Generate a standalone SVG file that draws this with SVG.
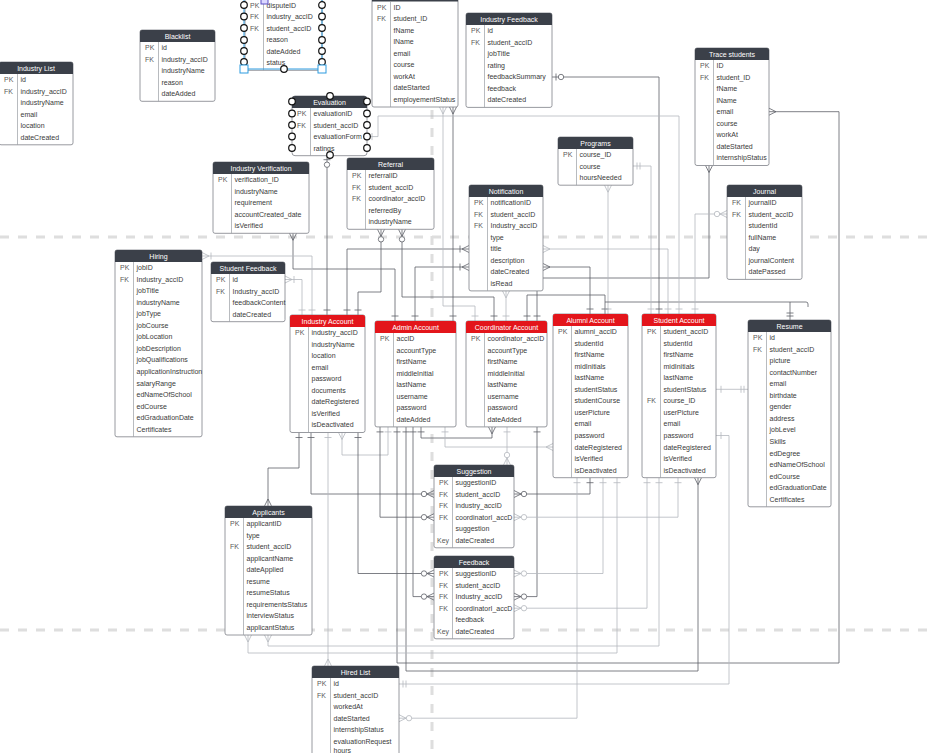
<svg xmlns="http://www.w3.org/2000/svg" width="930" height="753" viewBox="0 0 930 753">
<style>
.bx{fill:#fff;stroke:#7d8088;stroke-width:.8}
.hd{fill:#3b4049}
.hr{fill:#e3151b}
.dv{stroke:#9a9da3;stroke-width:.7}
text{font-family:"Liberation Sans",Arial,sans-serif;font-size:7px}
.ht{fill:#fff;text-anchor:middle}
.k{fill:#5a5a5a}
.f{fill:#3a3a3a}
.cd{fill:none;stroke:#5d6067;stroke-width:.8}
.cl{fill:none;stroke:#b4b8be;stroke-width:.8}
.ds{fill:none;stroke:#dedede;stroke-width:3;stroke-dasharray:9 9}
.h{fill:#fff;stroke:#111;stroke-width:1.2}
.sel{fill:none;stroke:#2d9be0;stroke-width:1}
.md{fill:none;stroke:#5d6067;stroke-width:.8}
.ml{fill:none;stroke:#b4b8be;stroke-width:.8}
</style>
<defs>
<marker id="dT" markerUnits="userSpaceOnUse" markerWidth="20" markerHeight="20" refX="0" refY="0" orient="auto-start-reverse" overflow="visible"><path class="md" d="M-5,-3.5V3.5"/></marker>
<marker id="dTT" markerUnits="userSpaceOnUse" markerWidth="20" markerHeight="20" refX="0" refY="0" orient="auto-start-reverse" overflow="visible"><path class="md" d="M-4,-3.5V3.5M-7,-3.5V3.5"/></marker>
<marker id="dC" markerUnits="userSpaceOnUse" markerWidth="20" markerHeight="20" refX="0" refY="0" orient="auto-start-reverse" overflow="visible"><path class="md" d="M0,-3.5L-7,0L0,3.5"/></marker>
<marker id="dCT" markerUnits="userSpaceOnUse" markerWidth="20" markerHeight="20" refX="0" refY="0" orient="auto-start-reverse" overflow="visible"><path class="md" d="M0,-3.5L-7,0L0,3.5M-9,-3.5V3.5"/></marker>
<marker id="dCO" markerUnits="userSpaceOnUse" markerWidth="20" markerHeight="20" refX="0" refY="0" orient="auto-start-reverse" overflow="visible"><path class="md" d="M0,-3.5L-7,0L0,3.5"/><circle cx="-10" cy="0" r="2.7" fill="#fff" stroke="#5d6067" stroke-width=".8"/></marker>
<marker id="dTO" markerUnits="userSpaceOnUse" markerWidth="20" markerHeight="20" refX="0" refY="0" orient="auto-start-reverse" overflow="visible"><path class="md" d="M-4,-3.5V3.5"/><circle cx="-9" cy="0" r="2.7" fill="#fff" stroke="#5d6067" stroke-width=".8"/></marker>
<marker id="lT" markerUnits="userSpaceOnUse" markerWidth="20" markerHeight="20" refX="0" refY="0" orient="auto-start-reverse" overflow="visible"><path class="ml" d="M-5,-3.5V3.5"/></marker>
<marker id="lTT" markerUnits="userSpaceOnUse" markerWidth="20" markerHeight="20" refX="0" refY="0" orient="auto-start-reverse" overflow="visible"><path class="ml" d="M-4,-3.5V3.5M-7,-3.5V3.5"/></marker>
<marker id="lC" markerUnits="userSpaceOnUse" markerWidth="20" markerHeight="20" refX="0" refY="0" orient="auto-start-reverse" overflow="visible"><path class="ml" d="M0,-3.5L-7,0L0,3.5"/></marker>
<marker id="lCT" markerUnits="userSpaceOnUse" markerWidth="20" markerHeight="20" refX="0" refY="0" orient="auto-start-reverse" overflow="visible"><path class="ml" d="M0,-3.5L-7,0L0,3.5M-9,-3.5V3.5"/></marker>
<marker id="lCO" markerUnits="userSpaceOnUse" markerWidth="20" markerHeight="20" refX="0" refY="0" orient="auto-start-reverse" overflow="visible"><path class="ml" d="M0,-3.5L-7,0L0,3.5"/><circle cx="-10" cy="0" r="2.7" fill="#fff" stroke="#b4b8be" stroke-width=".8"/></marker>
<marker id="lTO" markerUnits="userSpaceOnUse" markerWidth="20" markerHeight="20" refX="0" refY="0" orient="auto-start-reverse" overflow="visible"><path class="ml" d="M-4,-3.5V3.5"/><circle cx="-9" cy="0" r="2.7" fill="#fff" stroke="#b4b8be" stroke-width=".8"/></marker>
</defs>
<rect width="930" height="753" fill="#fff"/>
<g id="page-breaks">
<path class="ds" d="M0,237H930"/>
<path class="ds" d="M0,630H930"/>
<path class="ds" d="M432,110V753"/>
</g>
<g id="connectors">
<path class="cd" d="M293,233.3V269H395V321" marker-start="url(#dC)" marker-end="url(#dT)"/>
<path class="cl" d="M202,256H312V315" marker-start="url(#lCT)" marker-end="url(#lT)"/>
<path class="cl" d="M285,279.5H302V315" marker-start="url(#lCT)" marker-end="url(#lT)"/>
<path class="cd" d="M327,155.7V315" marker-start="url(#dTO)" marker-end="url(#dT)"/>
<path class="cd" d="M347,315V249H469" marker-start="url(#dT)" marker-end="url(#dCT)"/>
<path class="cd" d="M381,229.3V292H358V315" marker-start="url(#dCO)" marker-end="url(#dT)"/>
<path class="cd" d="M402,229.3V297H494V321" marker-start="url(#dCO)" marker-end="url(#dT)"/>
<path class="cd" d="M415,321V267H469" marker-start="url(#dT)" marker-end="url(#dCT)"/>
<path class="cl" d="M443,107V306H475V321" marker-start="url(#lC)" marker-end="url(#lT)"/>
<path class="cd" d="M453,107V321" marker-start="url(#dC)" marker-end="url(#dT)"/>
<path class="cl" d="M506,290.9V321" marker-start="url(#lC)" marker-end="url(#lT)"/>
<path class="cd" d="M709,165.5V278H537V321" marker-start="url(#dC)" marker-end="url(#dT)"/>
<path class="cd" d="M527,321V295H605V314" marker-start="url(#dT)" marker-end="url(#dT)"/>
<path class="cl" d="M608,185.2V314" marker-start="url(#lC)" marker-end="url(#lT)"/>
<path class="cd" d="M605,302H806Q808,302 808,304V307"/>
<path class="cd" d="M790,302V320" marker-end="url(#dTT)"/>
<path class="cd" d="M543,267H590V314" marker-start="url(#dC)" marker-end="url(#dT)"/>
<path class="cl" d="M543,249H668V314" marker-start="url(#lC)" marker-end="url(#lT)"/>
<path class="cl" d="M633,166H651V314" marker-start="url(#lTT)" marker-end="url(#lT)"/>
<path class="cd" d="M552,77H659V314" marker-start="url(#dTO)" marker-end="url(#dT)"/>
<path class="cl" d="M367,136.6H378V116H679V314" marker-start="url(#lT)" marker-end="url(#lT)"/>
<path class="cl" d="M727,214H695V314" marker-start="url(#lCO)" marker-end="url(#lT)"/>
<path class="cd" d="M769,111.7H839V663H397V426.9" marker-start="url(#dC)" marker-end="url(#dT)"/>
<path class="cl" d="M716,389.3H748" marker-start="url(#lT)" marker-end="url(#lTT)"/>
<path class="cl" d="M716,435.5H729V684H399" marker-start="url(#lT)" marker-end="url(#lTT)"/>
<path class="cd" d="M698,477.7V671H406V426.9" marker-start="url(#dC)" marker-end="url(#dT)"/>
<path class="cd" d="M299,432.5V468H268V506" marker-start="url(#dT)" marker-end="url(#dC)"/>
<path class="cd" d="M311,432.5V494H434" marker-start="url(#dT)" marker-end="url(#dCO)"/>
<path class="cl" d="M328,432.5V666" marker-start="url(#lT)" marker-end="url(#lC)"/>
<path class="cl" d="M342,432.5V455H388V426.9" marker-start="url(#lC)" marker-end="url(#lT)"/>
<path class="cd" d="M358,432.5V573.5H434" marker-start="url(#dT)" marker-end="url(#dCO)"/>
<path class="cd" d="M380,426.9V517.2H434" marker-start="url(#dT)" marker-end="url(#dCO)"/>
<path class="cd" d="M413,426.9V596.6H434" marker-start="url(#dT)" marker-end="url(#dCO)"/>
<path class="cd" d="M421,426.9V438H492V426.9" marker-start="url(#dT)" marker-end="url(#dC)"/>
<path class="cl" d="M445,426.9V447H553" marker-start="url(#lT)" marker-end="url(#lC)"/>
<path class="cl" d="M507,426.9V465" marker-start="url(#lT)" marker-end="url(#lCO)"/>
<path class="cd" d="M537,426.9V596.6H514" marker-start="url(#dT)" marker-end="url(#dCO)"/>
<path class="cd" d="M590,477.7V494H514" marker-start="url(#dT)" marker-end="url(#dCO)"/>
<path class="cl" d="M678,477.7V517.2H514" marker-start="url(#lT)" marker-end="url(#lCO)"/>
<path class="cl" d="M603,477.7V573.5H514" marker-start="url(#lT)" marker-end="url(#lCO)"/>
<path class="cl" d="M647,477.7V608.2H514" marker-start="url(#lT)" marker-end="url(#lCO)"/>
<path class="cl" d="M617,477.7V653H248V635" marker-start="url(#lT)" marker-end="url(#lC)"/>
<path class="cl" d="M659,477.7V646H268V635" marker-start="url(#lT)" marker-end="url(#lC)"/>
<path class="cl" d="M577,477.7V718.2H399" marker-start="url(#lT)" marker-end="url(#lCO)"/>
</g>

<g id="industry-list" transform="translate(-1,62)">
<rect class="bx" width="74" height="82.8" rx="2"/>
<path class="hd" d="M0,12V2Q0,0 2,0H72Q74,0 74,2V12Z"/>
<line class="dv" x1="18.5" y1="12" x2="18.5" y2="82.8"/>
<text class="ht" x="37" y="8.8">Industry List</text>
<text class="k"><tspan x="5" y="20">PK</tspan><tspan x="5" y="31.6">FK</tspan></text>
<text class="f"><tspan x="21.5" y="20">id</tspan><tspan x="21.5" y="31.6">industry_accID</tspan><tspan x="21.5" y="43.1">industryName</tspan><tspan x="21.5" y="54.7">email</tspan><tspan x="21.5" y="66.2">location</tspan><tspan x="21.5" y="77.8">dateCreated</tspan></text>
</g>

<g id="blacklist" transform="translate(140,30)">
<rect class="bx" width="75" height="71.3" rx="2"/>
<path class="hd" d="M0,12V2Q0,0 2,0H73Q75,0 75,2V12Z"/>
<line class="dv" x1="18.5" y1="12" x2="18.5" y2="71.3"/>
<text class="ht" x="37.5" y="8.8">Blacklist</text>
<text class="k"><tspan x="5" y="20">PK</tspan><tspan x="5" y="31.6">FK</tspan></text>
<text class="f"><tspan x="21.5" y="20">id</tspan><tspan x="21.5" y="31.6">industry_accID</tspan><tspan x="21.5" y="43.1">industryName</tspan><tspan x="21.5" y="54.7">reason</tspan><tspan x="21.5" y="66.2">dateAdded</tspan></text>
</g>

<g id="dispute" transform="translate(245,-12.5)">
<rect class="bx" width="77" height="82.8" rx="2"/>
<path class="hd" d="M0,12V2Q0,0 2,0H75Q77,0 77,2V12Z"/>
<line class="dv" x1="18.5" y1="12" x2="18.5" y2="82.8"/>
<text class="k"><tspan x="5" y="20">PK</tspan><tspan x="5" y="31.6">FK</tspan><tspan x="5" y="43.1">FK</tspan></text>
<text class="f"><tspan x="21.5" y="20">disputeID</tspan><tspan x="21.5" y="31.6">industry_accID</tspan><tspan x="21.5" y="43.1">student_accID</tspan><tspan x="21.5" y="54.7">reason</tspan><tspan x="21.5" y="66.2">dateAdded</tspan><tspan x="21.5" y="77.8">status</tspan></text>
</g>
<g id="dispute-selection">
<path class="sel" d="M244,0V69H322V0"/>
<circle class="h" cx="244" cy="5" r="3.3"/><circle class="h" cx="244" cy="16.5" r="3.3"/><circle class="h" cx="244" cy="28" r="3.3"/><circle class="h" cx="244" cy="40" r="3.3"/><circle class="h" cx="244" cy="51" r="3.3"/><circle class="h" cx="244" cy="62" r="3.3"/>
<circle class="h" cx="322" cy="5" r="3.3"/><circle class="h" cx="322" cy="16.5" r="3.3"/><circle class="h" cx="322" cy="28" r="3.3"/><circle class="h" cx="322" cy="40" r="3.3"/><circle class="h" cx="322" cy="51" r="3.3"/><circle class="h" cx="322" cy="62" r="3.3"/>
<rect x="240" y="65" width="8" height="8" fill="#fff" stroke="#2d9be0"/>
<rect x="318" y="65" width="8" height="8" fill="#fff" stroke="#2d9be0"/>
<circle class="h" cx="284" cy="69" r="3.3"/>
<rect x="261" y="-4" width="7" height="8" fill="#dcd8ff" stroke="#5b4fc4"/>
</g>

<g id="evaluation" transform="translate(292,96)">
<rect class="bx" width="75" height="59.7" rx="3"/>
<rect class="hd" width="75" height="12" rx="3"/>
<rect class="hd" y="6" width="75" height="6"/>
<line class="dv" x1="18.5" y1="12" x2="18.5" y2="59.7"/>
<text class="ht" x="37.5" y="8.8">Evaluation</text>
<text class="k"><tspan x="5" y="20">PK</tspan><tspan x="5" y="31.6">FK</tspan></text>
<text class="f"><tspan x="21.5" y="20">evaluationID</tspan><tspan x="21.5" y="31.6">student_accID</tspan><tspan x="21.5" y="43.1">evaluationForm</tspan><tspan x="21.5" y="54.7">ratings</tspan></text>
</g>
<g id="evaluation-selection">
<circle class="h" cx="292" cy="101.5" r="3.3"/><circle class="h" cx="292" cy="113.5" r="3.3"/><circle class="h" cx="292" cy="125" r="3.3"/><circle class="h" cx="292" cy="136.5" r="3.3"/><circle class="h" cx="292" cy="148" r="3.3"/>
<circle class="h" cx="367" cy="101.5" r="3.3"/><circle class="h" cx="367" cy="113.5" r="3.3"/><circle class="h" cx="367" cy="125" r="3.3"/><circle class="h" cx="367" cy="136.5" r="3.3"/><circle class="h" cx="367" cy="148" r="3.3"/>
<circle class="h" cx="330" cy="96" r="3.3"/><circle class="h" cx="330" cy="155" r="3.3"/>
</g>

<g id="alumni-tracer" transform="translate(372,-10.5)">
<rect class="bx" width="86" height="117.5" rx="2"/>
<path class="hd" d="M0,12V2Q0,0 2,0H84Q86,0 86,2V12Z"/>
<line class="dv" x1="18.5" y1="12" x2="18.5" y2="117.5"/>
<text class="k"><tspan x="5" y="20">PK</tspan><tspan x="5" y="31.6">FK</tspan></text>
<text class="f"><tspan x="21.5" y="20">ID</tspan><tspan x="21.5" y="31.6">student_ID</tspan><tspan x="21.5" y="43.1">fName</tspan><tspan x="21.5" y="54.7">lName</tspan><tspan x="21.5" y="66.2">email</tspan><tspan x="21.5" y="77.8">course</tspan><tspan x="21.5" y="89.3">workAt</tspan><tspan x="21.5" y="100.9">dateStarted</tspan><tspan x="21.5" y="112.4">employementStatus</tspan></text>
</g>

<g id="industry-feedback" transform="translate(466,13)">
<rect class="bx" width="86" height="94.4" rx="2"/>
<path class="hd" d="M0,12V2Q0,0 2,0H84Q86,0 86,2V12Z"/>
<line class="dv" x1="18.5" y1="12" x2="18.5" y2="94.4"/>
<text class="ht" x="43" y="8.8">Industry Feedback</text>
<text class="k"><tspan x="5" y="20">PK</tspan><tspan x="5" y="31.6">FK</tspan></text>
<text class="f"><tspan x="21.5" y="20">id</tspan><tspan x="21.5" y="31.6">student_accID</tspan><tspan x="21.5" y="43.1">jobTitle</tspan><tspan x="21.5" y="54.7">rating</tspan><tspan x="21.5" y="66.2">feedbackSummary</tspan><tspan x="21.5" y="77.8">feedback</tspan><tspan x="21.5" y="89.3">dateCreated</tspan></text>
</g>

<g id="trace-students" transform="translate(695,48)">
<rect class="bx" width="74" height="117.5" rx="2"/>
<path class="hd" d="M0,12V2Q0,0 2,0H72Q74,0 74,2V12Z"/>
<line class="dv" x1="18.5" y1="12" x2="18.5" y2="117.5"/>
<text class="ht" x="37" y="8.8">Trace students</text>
<text class="k"><tspan x="5" y="20">PK</tspan><tspan x="5" y="31.6">FK</tspan></text>
<text class="f"><tspan x="21.5" y="20">ID</tspan><tspan x="21.5" y="31.6">student_ID</tspan><tspan x="21.5" y="43.1">fName</tspan><tspan x="21.5" y="54.7">lName</tspan><tspan x="21.5" y="66.2">email</tspan><tspan x="21.5" y="77.8">course</tspan><tspan x="21.5" y="89.3">workAt</tspan><tspan x="21.5" y="100.9">dateStarted</tspan><tspan x="21.5" y="112.4">internshipStatus</tspan></text>
</g>

<g id="journal" transform="translate(727,185)">
<rect class="bx" width="75" height="94.4" rx="2"/>
<path class="hd" d="M0,12V2Q0,0 2,0H73Q75,0 75,2V12Z"/>
<line class="dv" x1="18.5" y1="12" x2="18.5" y2="94.4"/>
<text class="ht" x="37.5" y="8.8">Journal</text>
<text class="k"><tspan x="5" y="20">FK</tspan><tspan x="5" y="31.6">FK</tspan></text>
<text class="f"><tspan x="21.5" y="20">journalID</tspan><tspan x="21.5" y="31.6">student_accID</tspan><tspan x="21.5" y="43.1">studentId</tspan><tspan x="21.5" y="54.7">fullName</tspan><tspan x="21.5" y="66.2">day</tspan><tspan x="21.5" y="77.8">journalContent</tspan><tspan x="21.5" y="89.3">datePassed</tspan></text>
</g>

<g id="programs" transform="translate(558,137)">
<rect class="bx" width="75" height="48.2" rx="2"/>
<path class="hd" d="M0,12V2Q0,0 2,0H73Q75,0 75,2V12Z"/>
<line class="dv" x1="18.5" y1="12" x2="18.5" y2="48.2"/>
<text class="ht" x="37.5" y="8.8">Programs</text>
<text class="k"><tspan x="5" y="20">PK</tspan></text>
<text class="f"><tspan x="21.5" y="20">course_ID</tspan><tspan x="21.5" y="31.6">course</tspan><tspan x="21.5" y="43.1">hoursNeeded</tspan></text>
</g>

<g id="industry-verification" transform="translate(213,162)">
<rect class="bx" width="96" height="71.3" rx="2"/>
<path class="hd" d="M0,12V2Q0,0 2,0H94Q96,0 96,2V12Z"/>
<line class="dv" x1="18.5" y1="12" x2="18.5" y2="71.3"/>
<text class="ht" x="48" y="8.8">Industry Verification</text>
<text class="k"><tspan x="5" y="20">PK</tspan></text>
<text class="f"><tspan x="21.5" y="20">verification_ID</tspan><tspan x="21.5" y="31.6">industryName</tspan><tspan x="21.5" y="43.1">requirement</tspan><tspan x="21.5" y="54.7">accountCreated_date</tspan><tspan x="21.5" y="66.2">isVerified</tspan></text>
</g>

<g id="referral" transform="translate(347,158)">
<rect class="bx" width="87" height="71.3" rx="2"/>
<path class="hd" d="M0,12V2Q0,0 2,0H85Q87,0 87,2V12Z"/>
<line class="dv" x1="18.5" y1="12" x2="18.5" y2="71.3"/>
<text class="ht" x="43.5" y="8.8">Referral</text>
<text class="k"><tspan x="5" y="20">PK</tspan><tspan x="5" y="31.6">FK</tspan><tspan x="5" y="43.1">FK</tspan></text>
<text class="f"><tspan x="21.5" y="20">referralID</tspan><tspan x="21.5" y="31.6">student_accID</tspan><tspan x="21.5" y="43.1">coordinator_accID</tspan><tspan x="21.5" y="54.7">referredBy</tspan><tspan x="21.5" y="66.2">industryName</tspan></text>
</g>

<g id="notification" transform="translate(469,185)">
<rect class="bx" width="74" height="105.9" rx="2"/>
<path class="hd" d="M0,12V2Q0,0 2,0H72Q74,0 74,2V12Z"/>
<line class="dv" x1="18.5" y1="12" x2="18.5" y2="105.9"/>
<text class="ht" x="37" y="8.8">Notification</text>
<text class="k"><tspan x="5" y="20">PK</tspan><tspan x="5" y="31.6">FK</tspan><tspan x="5" y="43.1">FK</tspan></text>
<text class="f"><tspan x="21.5" y="20">notificationID</tspan><tspan x="21.5" y="31.6">student_accID</tspan><tspan x="21.5" y="43.1">Industry_accID</tspan><tspan x="21.5" y="54.7">type</tspan><tspan x="21.5" y="66.2">title</tspan><tspan x="21.5" y="77.8">description</tspan><tspan x="21.5" y="89.3">dateCreated</tspan><tspan x="21.5" y="100.9">isRead</tspan></text>
</g>

<g id="hiring" transform="translate(115,250)">
<rect class="bx" width="87" height="186.8" rx="2"/>
<path class="hd" d="M0,12V2Q0,0 2,0H85Q87,0 87,2V12Z"/>
<line class="dv" x1="18.5" y1="12" x2="18.5" y2="186.8"/>
<text class="ht" x="43.5" y="8.8">Hiring</text>
<text class="k"><tspan x="5" y="20">PK</tspan><tspan x="5" y="31.6">FK</tspan></text>
<text class="f"><tspan x="21.5" y="20">jobID</tspan><tspan x="21.5" y="31.6">Industry_accID</tspan><tspan x="21.5" y="43.1">jobTitle</tspan><tspan x="21.5" y="54.7">industryName</tspan><tspan x="21.5" y="66.2">jobType</tspan><tspan x="21.5" y="77.8">jobCourse</tspan><tspan x="21.5" y="89.3">jobLocation</tspan><tspan x="21.5" y="100.9">jobDescription</tspan><tspan x="21.5" y="112.4">jobQualifications</tspan><tspan x="21.5" y="124">applicationInstruction</tspan><tspan x="21.5" y="135.5">salaryRange</tspan><tspan x="21.5" y="147.1">edNameOfSchool</tspan><tspan x="21.5" y="158.6">edCourse</tspan><tspan x="21.5" y="170.2">edGraduationDate</tspan><tspan x="21.5" y="181.7">Certificates</tspan></text>
</g>

<g id="student-feedback" transform="translate(211,262)">
<rect class="bx" width="74" height="59.7" rx="2"/>
<path class="hd" d="M0,12V2Q0,0 2,0H72Q74,0 74,2V12Z"/>
<line class="dv" x1="18.5" y1="12" x2="18.5" y2="59.7"/>
<text class="ht" x="37" y="8.8">Student Feedback</text>
<text class="k"><tspan x="5" y="20">PK</tspan><tspan x="5" y="31.6">FK</tspan></text>
<text class="f"><tspan x="21.5" y="20">id</tspan><tspan x="21.5" y="31.6">Industry_accID</tspan><tspan x="21.5" y="43.1">feedbackContent</tspan><tspan x="21.5" y="54.7">dateCreated</tspan></text>
</g>

<g id="industry-account" transform="translate(290,315)">
<rect class="bx" width="75" height="117.5" rx="2"/>
<path class="hr" d="M0,12V2Q0,0 2,0H73Q75,0 75,2V12Z"/>
<line class="dv" x1="18.5" y1="12" x2="18.5" y2="117.5"/>
<text class="ht" x="37.5" y="8.8">Industry Account</text>
<text class="k"><tspan x="5" y="20">PK</tspan></text>
<text class="f"><tspan x="21.5" y="20">industry_accID</tspan><tspan x="21.5" y="31.6">industryName</tspan><tspan x="21.5" y="43.1">location</tspan><tspan x="21.5" y="54.7">email</tspan><tspan x="21.5" y="66.2">password</tspan><tspan x="21.5" y="77.8">documents</tspan><tspan x="21.5" y="89.3">dateRegistered</tspan><tspan x="21.5" y="100.9">isVerified</tspan><tspan x="21.5" y="112.4">isDeactivated</tspan></text>
</g>

<g id="admin-account" transform="translate(375,321)">
<rect class="bx" width="81" height="105.9" rx="2"/>
<path class="hr" d="M0,12V2Q0,0 2,0H79Q81,0 81,2V12Z"/>
<line class="dv" x1="18.5" y1="12" x2="18.5" y2="105.9"/>
<text class="ht" x="40.5" y="8.8">Admin Account</text>
<text class="k"><tspan x="5" y="20">PK</tspan></text>
<text class="f"><tspan x="21.5" y="20">accID</tspan><tspan x="21.5" y="31.6">accountType</tspan><tspan x="21.5" y="43.1">firstName</tspan><tspan x="21.5" y="54.7">middleInitial</tspan><tspan x="21.5" y="66.2">lastName</tspan><tspan x="21.5" y="77.8">username</tspan><tspan x="21.5" y="89.3">password</tspan><tspan x="21.5" y="100.9">dateAdded</tspan></text>
</g>

<g id="coordinator-account" transform="translate(466,321)">
<rect class="bx" width="81" height="105.9" rx="2"/>
<path class="hr" d="M0,12V2Q0,0 2,0H79Q81,0 81,2V12Z"/>
<line class="dv" x1="18.5" y1="12" x2="18.5" y2="105.9"/>
<text class="ht" x="40.5" y="8.8">Coordinator Account</text>
<text class="k"><tspan x="5" y="20">PK</tspan></text>
<text class="f"><tspan x="21.5" y="20">coordinator_accID</tspan><tspan x="21.5" y="31.6">accountType</tspan><tspan x="21.5" y="43.1">firstName</tspan><tspan x="21.5" y="54.7">middleInitial</tspan><tspan x="21.5" y="66.2">lastName</tspan><tspan x="21.5" y="77.8">username</tspan><tspan x="21.5" y="89.3">password</tspan><tspan x="21.5" y="100.9">dateAdded</tspan></text>
</g>

<g id="alumni-account" transform="translate(553,314)">
<rect class="bx" width="75" height="163.7" rx="2"/>
<path class="hr" d="M0,12V2Q0,0 2,0H73Q75,0 75,2V12Z"/>
<line class="dv" x1="18.5" y1="12" x2="18.5" y2="163.7"/>
<text class="ht" x="37.5" y="8.8">Alumni Account</text>
<text class="k"><tspan x="5" y="20">PK</tspan></text>
<text class="f"><tspan x="21.5" y="20">alumni_accID</tspan><tspan x="21.5" y="31.6">studentId</tspan><tspan x="21.5" y="43.1">firstName</tspan><tspan x="21.5" y="54.7">midInitials</tspan><tspan x="21.5" y="66.2">lastName</tspan><tspan x="21.5" y="77.8">studentStatus</tspan><tspan x="21.5" y="89.3">studentCourse</tspan><tspan x="21.5" y="100.9">userPicture</tspan><tspan x="21.5" y="112.4">email</tspan><tspan x="21.5" y="124">password</tspan><tspan x="21.5" y="135.5">dateRegistered</tspan><tspan x="21.5" y="147.1">isVerified</tspan><tspan x="21.5" y="158.6">isDeactivated</tspan></text>
</g>

<g id="student-account" transform="translate(642,314)">
<rect class="bx" width="74" height="163.7" rx="2"/>
<path class="hr" d="M0,12V2Q0,0 2,0H72Q74,0 74,2V12Z"/>
<line class="dv" x1="18.5" y1="12" x2="18.5" y2="163.7"/>
<text class="ht" x="37" y="8.8">Student Account</text>
<text class="k"><tspan x="5" y="20">PK</tspan><tspan x="5" y="89.3">FK</tspan></text>
<text class="f"><tspan x="21.5" y="20">student_accID</tspan><tspan x="21.5" y="31.6">studentId</tspan><tspan x="21.5" y="43.1">firstName</tspan><tspan x="21.5" y="54.7">midInitials</tspan><tspan x="21.5" y="66.2">lastName</tspan><tspan x="21.5" y="77.8">studentStatus</tspan><tspan x="21.5" y="89.3">course_ID</tspan><tspan x="21.5" y="100.9">userPicture</tspan><tspan x="21.5" y="112.4">email</tspan><tspan x="21.5" y="124">password</tspan><tspan x="21.5" y="135.5">dateRegistered</tspan><tspan x="21.5" y="147.1">isVerified</tspan><tspan x="21.5" y="158.6">isDeactivated</tspan></text>
</g>

<g id="resume" transform="translate(748,320)">
<rect class="bx" width="83" height="186.8" rx="2"/>
<path class="hd" d="M0,12V2Q0,0 2,0H81Q83,0 83,2V12Z"/>
<line class="dv" x1="18.5" y1="12" x2="18.5" y2="186.8"/>
<text class="ht" x="41.5" y="8.8">Resume</text>
<text class="k"><tspan x="5" y="20">PK</tspan><tspan x="5" y="31.6">FK</tspan></text>
<text class="f"><tspan x="21.5" y="20">id</tspan><tspan x="21.5" y="31.6">student_accID</tspan><tspan x="21.5" y="43.1">picture</tspan><tspan x="21.5" y="54.7">contactNumber</tspan><tspan x="21.5" y="66.2">email</tspan><tspan x="21.5" y="77.8">birthdate</tspan><tspan x="21.5" y="89.3">gender</tspan><tspan x="21.5" y="100.9">address</tspan><tspan x="21.5" y="112.4">jobLevel</tspan><tspan x="21.5" y="124">Skills</tspan><tspan x="21.5" y="135.5">edDegree</tspan><tspan x="21.5" y="147.1">edNameOfSchool</tspan><tspan x="21.5" y="158.6">edCourse</tspan><tspan x="21.5" y="170.2">edGraduationDate</tspan><tspan x="21.5" y="181.7">Certificates</tspan></text>
</g>

<g id="suggestion" transform="translate(434,465)">
<rect class="bx" width="80" height="82.8" rx="2"/>
<path class="hd" d="M0,12V2Q0,0 2,0H78Q80,0 80,2V12Z"/>
<line class="dv" x1="18.5" y1="12" x2="18.5" y2="82.8"/>
<text class="ht" x="40" y="8.8">Suggestion</text>
<text class="k"><tspan x="5" y="20">PK</tspan><tspan x="5" y="31.6">FK</tspan><tspan x="5" y="43.1">FK</tspan><tspan x="5" y="54.7">FK</tspan><tspan x="3" y="77.8">Key</tspan></text>
<text class="f"><tspan x="21.5" y="20">suggestionID</tspan><tspan x="21.5" y="31.6">student_accID</tspan><tspan x="21.5" y="43.1">industry_accID</tspan><tspan x="21.5" y="54.7">coordinatorI_accD</tspan><tspan x="21.5" y="66.2">suggestion</tspan><tspan x="21.5" y="77.8">dateCreated</tspan></text>
</g>

<g id="feedback" transform="translate(434,556)">
<rect class="bx" width="80" height="82.8" rx="2"/>
<path class="hd" d="M0,12V2Q0,0 2,0H78Q80,0 80,2V12Z"/>
<line class="dv" x1="18.5" y1="12" x2="18.5" y2="82.8"/>
<text class="ht" x="40" y="8.8">Feedback</text>
<text class="k"><tspan x="5" y="20">PK</tspan><tspan x="5" y="31.6">FK</tspan><tspan x="5" y="43.1">FK</tspan><tspan x="5" y="54.7">FK</tspan><tspan x="3" y="77.8">Key</tspan></text>
<text class="f"><tspan x="21.5" y="20">suggestionID</tspan><tspan x="21.5" y="31.6">student_accID</tspan><tspan x="21.5" y="43.1">Industry_accID</tspan><tspan x="21.5" y="54.7">coordinatorI_accD</tspan><tspan x="21.5" y="66.2">feedback</tspan><tspan x="21.5" y="77.8">dateCreated</tspan></text>
</g>

<g id="applicants" transform="translate(225,506)">
<rect class="bx" width="87" height="129" rx="2"/>
<path class="hd" d="M0,12V2Q0,0 2,0H85Q87,0 87,2V12Z"/>
<line class="dv" x1="18.5" y1="12" x2="18.5" y2="129"/>
<text class="ht" x="43.5" y="8.8">Applicants</text>
<text class="k"><tspan x="5" y="20">PK</tspan><tspan x="5" y="43.1">FK</tspan></text>
<text class="f"><tspan x="21.5" y="20">applicantID</tspan><tspan x="21.5" y="31.6">type</tspan><tspan x="21.5" y="43.1">student_accID</tspan><tspan x="21.5" y="54.7">applicantName</tspan><tspan x="21.5" y="66.2">dateApplied</tspan><tspan x="21.5" y="77.8">resume</tspan><tspan x="21.5" y="89.3">resumeStatus</tspan><tspan x="21.5" y="100.9">requirementsStatus</tspan><tspan x="21.5" y="112.4">interviewStatus</tspan><tspan x="21.5" y="124">applicantStatus</tspan></text>
</g>

<g id="hired-list" transform="translate(312,666)">
<rect class="bx" width="87" height="94.4" rx="2"/>
<path class="hd" d="M0,12V2Q0,0 2,0H85Q87,0 87,2V12Z"/>
<line class="dv" x1="18.5" y1="12" x2="18.5" y2="94.4"/>
<text class="ht" x="43.5" y="8.8">Hired List</text>
<text class="k"><tspan x="5" y="20">PK</tspan><tspan x="5" y="31.6">FK</tspan></text>
<text class="f"><tspan x="21.5" y="20">id</tspan><tspan x="21.5" y="31.6">student_accID</tspan><tspan x="21.5" y="43.1">workedAt</tspan><tspan x="21.5" y="54.7">dateStarted</tspan><tspan x="21.5" y="66.2">internshipStatus</tspan><tspan x="21.5" y="77.8">evaluationRequest</tspan><tspan x="21.5" y="86.6">hours</tspan></text>
</g>
</svg>
